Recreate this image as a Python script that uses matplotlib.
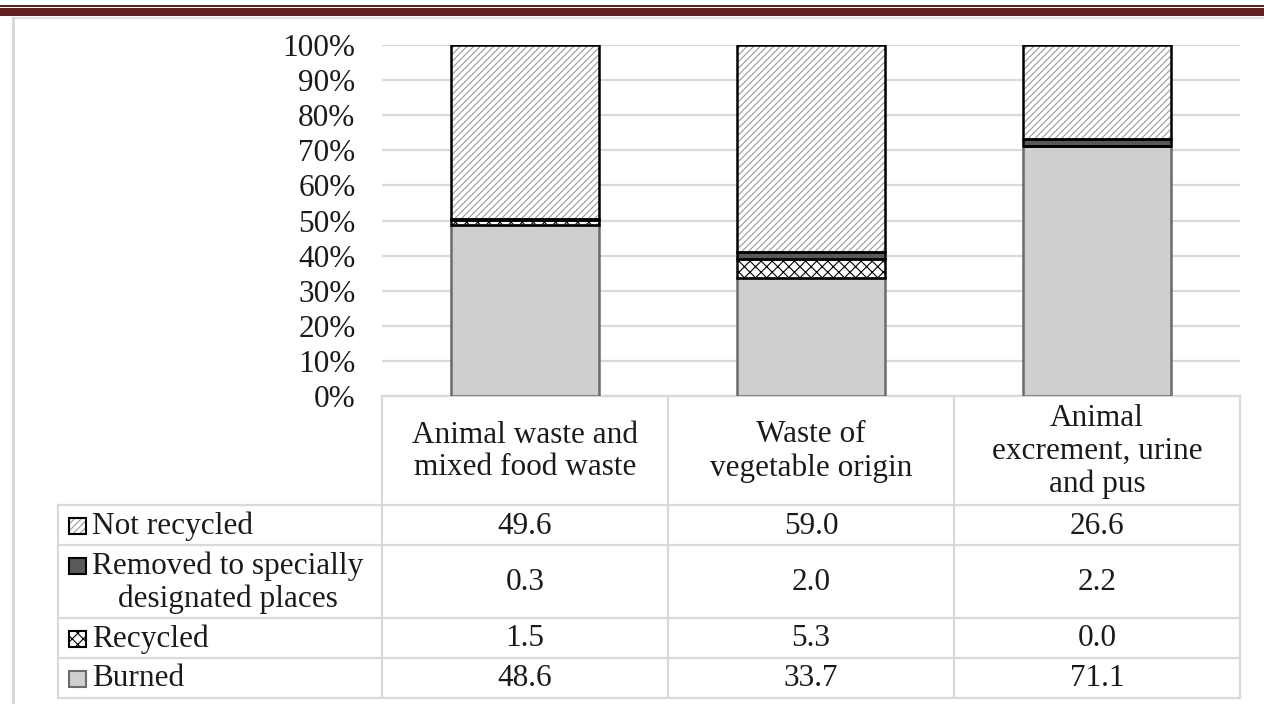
import matplotlib.pyplot as plt
from matplotlib.patches import Rectangle

## DATA ##
categories = ["Animal waste and\nmixed food waste",
              "Waste of\nvegetable origin",
              "Animal\nexcrement, urine\nand pus"]
series_names = ["Not recycled", "Removed to specially\ndesignated places",
                "Recycled", "Burned"]
not_recycled = [49.6, 59.0, 26.6]
removed = [0.3, 2.0, 2.2]
recycled = [1.5, 5.3, 0.0]
burned = [48.6, 33.7, 71.1]
yticks = [0, 10, 20, 30, 40, 50, 60, 70, 80, 90, 100]

## STYLE ##
plt.rcParams['font.family'] = ['Liberation Serif', 'DejaVu Serif']
plt.rcParams['hatch.linewidth'] = 0.8
TXT = '#1a1a1a'
GRID = '#d9d9d9'
FS = 22.5

# one style per series: (face, hatch colour, hatch, outline)
styles = {
    "Not recycled": ('white', '#9a9a9a', '/////', 'black'),
    "Removed": ('#595959', '#595959', '', 'black'),
    "Recycled": ('white', 'black', 'xxx', 'black'),
    "Burned": ('#d0cece', '#d0cece', '', '#6b6b6b'),
}
keys = ["Not recycled", "Removed", "Recycled", "Burned"]
row_vals = [not_recycled, removed, recycled, burned]

W, H = 1264, 704
fig = plt.figure(figsize=(W / 100, H / 100), dpi=100)

# background axes in pixel coordinates for frame + table
bg = fig.add_axes([0, 0, 1, 1])
bg.set_xlim(0, W)
bg.set_ylim(H, 0)
bg.axis('off')

# page header band and frame
bg.add_patch(Rectangle((0, 4.5), W, 2.2, color='#622020', lw=0))
bg.add_patch(Rectangle((0, 8.3), W, 8, color='#622020', lw=0))
bg.plot([13, W], [17.5, 17.5], color='#e3e3e3', lw=1.5)
bg.plot([13, 13], [17.5, H], color='#d6d6d6', lw=2)

# plot area (pixel layout)
x0, x1 = 382, 1240
y_top, y_zero = 45, 396
ax = fig.add_axes([x0 / W, 1 - y_zero / H, (x1 - x0) / W, (y_zero - y_top) / H])
ax.patch.set_alpha(0)

xs = list(range(len(categories)))
bw = 0.52
bottom = [0.0] * len(xs)
stack = [("Burned", burned), ("Recycled", recycled), ("Removed", removed),
         ("Not recycled", not_recycled)]
for key, vals in stack:
    face, hcol, hatch, edge = styles[key]
    ax.bar(xs, vals, bw, bottom=bottom, color=face, edgecolor=hcol,
           hatch=hatch, lw=0, zorder=2)
    ax.bar(xs, vals, bw, bottom=bottom, fill=False, edgecolor=edge,
           lw=1.8, zorder=3)
    bottom = [b + v for b, v in zip(bottom, vals)]

ax.set_xlim(-0.5, len(xs) - 0.5)
ax.set_ylim(0, 100)
ax.set_yticks(yticks)
ax.set_yticklabels([f"{t}%" for t in yticks], fontsize=FS, color=TXT)
ax.set_xticks([])
ax.tick_params(axis='y', length=0, pad=19)
ax.yaxis.grid(True, color=GRID, lw=1.6)
ax.set_axisbelow(True)
for s in ax.spines.values():
    s.set_visible(False)

## TABLE ##
lc, lw = '#d9d9d9', 1.6
tx0 = 58
col_w = (x1 - x0) / len(categories)
col_edges = [x0 + i * col_w for i in range(len(categories) + 1)]
col_mid = [x0 + (i + 0.5) * col_w for i in range(len(categories))]
row_edges = [396, 505, 545, 618, 658, 698]

# header row
bg.plot([x0, x1], [row_edges[0], row_edges[0]], color=lc, lw=lw)
for xe in col_edges:
    bg.plot([xe, xe], [row_edges[0], row_edges[-1]], color=lc, lw=lw)
for xm, cat in zip(col_mid, categories):
    bg.text(xm, (row_edges[0] + row_edges[1]) / 2 + 1, cat, ha='center',
            va='center', fontsize=FS, color=TXT, linespacing=1.17)

# body rows
for ye in row_edges[1:]:
    bg.plot([tx0, x1], [ye, ye], color=lc, lw=lw)
bg.plot([tx0, tx0], [row_edges[1], row_edges[-1]], color=lc, lw=lw)

for i, (name, key, vals) in enumerate(zip(series_names, keys, row_vals)):
    ya, yb = row_edges[i + 1], row_edges[i + 2]
    ym = (ya + yb) / 2
    face, hcol, hatch, edge = styles[key]
    first_line_y = ya + 20 if '\n' in name else ym
    bg.add_patch(Rectangle((69, first_line_y - 7), 17, 16, facecolor=face,
                           edgecolor=hcol, hatch=hatch, lw=0, zorder=2))
    bg.add_patch(Rectangle((69, first_line_y - 7), 17, 16, fill=False,
                           edgecolor=edge, lw=1.5, zorder=3))
    bg.text(92, ym + 1, name, ha='left', va='center', multialignment='center',
            fontsize=FS, color=TXT, linespacing=1.17)
    for xm, v in zip(col_mid, vals):
        bg.text(xm, ym + 1, f"{v:.1f}", ha='center', va='center',
                fontsize=FS, color=TXT)

fig.savefig('out.png', dpi=100)
